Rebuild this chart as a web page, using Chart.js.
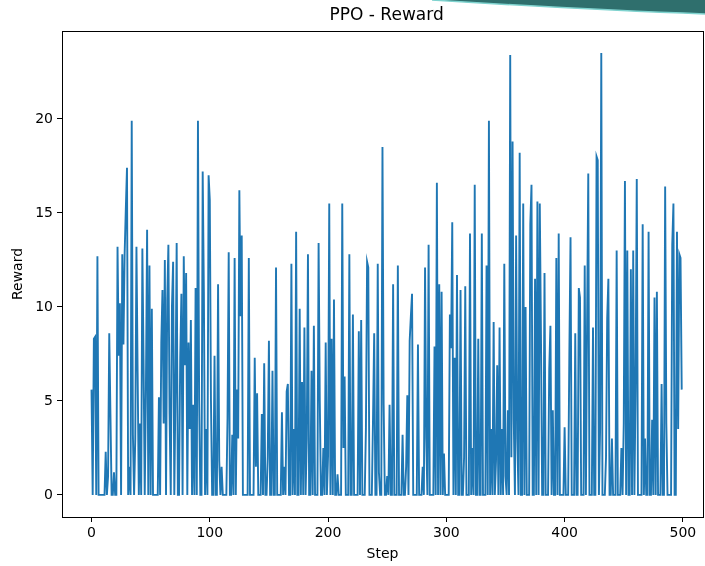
<!DOCTYPE html>
<html>
<head>
<meta charset="utf-8">
<title>PPO - Reward</title>
<script src="https://cdn.jsdelivr.net/npm/chart.js@4.4.1/dist/chart.umd.min.js"></script>
<style>
  html, body { margin: 0; padding: 0; background: #fff; }
  #wrap { position: relative; width: 705px; height: 566px; }
  #rewardChart { position: absolute; left: 0; top: 0; }
  #corner { position: absolute; left: 0; top: 0; pointer-events: none; }
</style>
</head>
<body>
<div id="wrap">
  <canvas id="rewardChart" width="705" height="566"></canvas>
  <svg id="corner" width="705" height="566">
    <path d="M432,0 Q590,10 705,14 L705,0 Z" fill="#2f6f6d"/>
    <path d="M432,0 Q590,10 705,14" fill="none" stroke="#7fd3cf" stroke-width="1.5"/>
  </svg>
</div>
<script>
// reward per training step
const rewards = [
  5.6, 0, 8.3, 8.4, 0, 12.7, 0, 0, 0, 0, 0, 0, 2.3, 0, 1.0, 8.6, 4.3, 0, 0, 1.2,
  0, 0, 13.2, 7.4, 10.2, 0, 12.8, 8.0, 12.8, 15.2, 17.4, 0, 1.5, 0, 19.9, 3.2, 0, 3.0, 13.2, 6.5,
  0, 3.8, 0, 13.1, 7.2, 0, 5.6, 14.1, 0, 12.2, 0, 9.9, 0, 0, 0, 0, 0, 5.2, 0, 8.1,
  10.9, 3.8, 12.5, 0, 10.3, 13.3, 4.3, 0, 10.0, 12.4, 0, 5.6, 13.4, 0, 0, 7.3, 10.7, 0, 12.7, 6.9,
  11.8, 0, 8.1, 3.5, 9.3, 0, 4.8, 0, 11.0, 0, 19.9, 5.0, 0, 0, 17.2, 10.8, 0, 3.5, 0, 17.0,
  15.7, 5.0, 0, 0, 7.4, 0, 0, 11.2, 1.8, 0, 1.5, 0, 0, 0, 0, 4.1, 12.9, 0, 0, 3.2,
  0, 12.6, 0, 5.6, 3.0, 16.2, 9.5, 13.8, 0, 0, 0, 0, 0, 12.6, 0, 0, 0, 0, 7.3, 1.5,
  5.4, 0, 0, 0, 4.3, 0, 7.0, 0, 0, 2.0, 8.2, 0, 0, 6.6, 0, 0, 12.1, 0, 0, 0,
  0, 4.4, 0, 1.5, 0, 5.5, 5.9, 0, 0, 12.3, 0, 3.5, 0, 14.0, 0, 0, 9.9, 0, 6.0, 0,
  8.9, 0, 3.0, 12.8, 0, 0, 6.6, 0, 9.0, 0, 0, 0, 13.4, 5.0, 0, 0, 2.5, 0, 8.1, 0,
  2.1, 15.5, 0, 8.3, 0, 10.4, 0, 0, 1.1, 0, 0, 0, 15.5, 2.5, 6.3, 0, 0, 0, 12.8, 0,
  0, 9.6, 0, 0, 0, 0, 8.7, 0, 9.3, 0, 0, 0, 3.5, 12.4, 12.1, 0, 0, 0, 4.0, 8.6,
  0, 0, 12.3, 1.2, 0, 0, 18.5, 4.8, 0, 0, 1.0, 0, 4.8, 0, 0, 11.2, 0, 0, 0, 12.2,
  0, 0, 0, 3.2, 0, 0, 1.5, 5.3, 0, 8.2, 9.5, 10.7, 0, 0, 0, 0, 8.0, 0, 0, 0,
  1.5, 0, 12.1, 3.0, 0, 13.3, 0, 0, 0, 0, 7.9, 0, 16.6, 0, 11.2, 0, 10.8, 0, 2.2, 0,
  0, 0, 0, 9.6, 7.8, 14.5, 0, 7.3, 0, 11.7, 0, 0, 10.9, 0, 0, 2.0, 11.1, 0, 0, 0,
  13.9, 0, 2.5, 0, 16.5, 0, 0, 8.3, 0, 0, 13.9, 0, 0, 0, 12.2, 0, 19.9, 0, 3.5, 0,
  9.2, 0, 1.8, 6.9, 0, 8.9, 0, 3.5, 0, 12.3, 1.0, 0, 4.5, 0, 23.4, 2.0, 18.8, 4.0, 0, 13.8,
  3.0, 0, 18.2, 0, 0, 15.5, 0, 10.0, 0, 0, 0, 14.4, 16.5, 0, 0, 11.5, 0, 15.6, 0, 15.5,
  8.5, 0, 0, 11.8, 0, 0, 0, 6.7, 9.0, 0, 4.5, 0, 0, 12.6, 0, 13.9, 0, 0, 0, 0,
  3.6, 0, 0, 0, 7.5, 13.7, 0, 0, 0, 8.6, 0, 0, 11.0, 10.5, 0, 0, 0, 12.2, 0, 9.2,
  17.1, 0, 0, 0, 8.9, 0, 0, 18.0, 17.8, 0, 3.5, 23.5, 0, 0, 0, 2.0, 9.4, 11.5, 0, 0,
  3.0, 0, 0, 0, 13.0, 0, 0, 0, 2.5, 0, 3.8, 16.7, 0, 13.0, 0, 0, 12.0, 0, 13.0, 0,
  5.7, 16.8, 0, 0, 0, 0, 14.4, 0, 3.0, 0, 0, 14.0, 0, 0, 4.0, 0, 10.5, 0, 10.8, 0,
  0, 0, 5.9, 0, 0, 16.4, 3.8, 0, 0, 0, 0, 13.3, 15.5, 0, 0, 14.0, 3.5, 12.8, 12.6, 5.6
];
const steps = rewards.map((_, i) => i);
const xTicks = [0, 100, 200, 300, 400, 500];
const yTicks = [0, 5, 10, 15, 20];
const titleText = 'PPO - Reward';

const FONT = 'DejaVu Sans';

// axes box plus a title centred over the full x range (-25 .. 524)
const boxPlugin = {
  id: 'axesBox',
  afterDraw(chart) {
    const a = chart.chartArea;
    const ctx = chart.ctx;
    ctx.save();
    ctx.strokeStyle = '#000';
    ctx.lineWidth = 1;
    ctx.strokeRect(Math.round(a.left) + 0.5, Math.round(a.top) + 0.5,
                   Math.round(a.right - a.left), Math.round(a.bottom - a.top));
    const cx = chart.scales.x.getPixelForValue(249.5);
    ctx.fillStyle = '#000';
    ctx.font = '17px "' + FONT + '"';
    ctx.textAlign = 'center';
    ctx.textBaseline = 'middle';
    ctx.fillText(titleText, cx, 16);
    ctx.restore();
  }
};

const ctx = document.getElementById('rewardChart').getContext('2d');
new Chart(ctx, {
  type: 'line',
  data: {
    datasets: [{
      data: steps.map((s, i) => ({ x: s, y: rewards[i] })),
      borderColor: '#1f77b4',
      borderWidth: 1.9,
      pointRadius: 0,
      tension: 0,
      fill: false
    }]
  },
  options: {
    responsive: false,
    animation: false,
    devicePixelRatio: 1,
    layout: { padding: { left: 0, right: 2, top: 31, bottom: 0 } },
    plugins: {
      legend: { display: false },
      tooltip: { enabled: false },
      title: { display: false }
    },
    scales: {
      x: {
        type: 'linear',
        min: -24.95,
        max: 517,
        afterBuildTicks: s => { s.ticks = xTicks.map(v => ({ value: v })); },
        afterFit: s => { s.height = 49; },
        grid: { drawOnChartArea: false, drawTicks: true, tickLength: 5, color: '#000' },
        border: { display: true, color: '#000' },
        ticks: { color: '#000', font: { family: FONT, size: 14 }, padding: 3, maxRotation: 0 },
        title: { display: true, text: 'Step', color: '#000', font: { family: FONT, size: 14 }, padding: { top: 2, bottom: 3 } }
      },
      y: {
        min: -1.175,
        max: 24.675,
        afterBuildTicks: s => { s.ticks = yTicks.map(v => ({ value: v })); },
        afterFit: s => { s.width = 62; },
        grid: { drawOnChartArea: false, drawTicks: true, tickLength: 5, color: '#000' },
        border: { display: true, color: '#000' },
        ticks: { color: '#000', font: { family: FONT, size: 14 }, padding: 4 },
        title: { display: true, text: 'Reward', color: '#000', font: { family: FONT, size: 14 }, padding: { top: 10, bottom: 2 } }
      }
    }
  },
  plugins: [boxPlugin]
});
</script>
</body>
</html>
